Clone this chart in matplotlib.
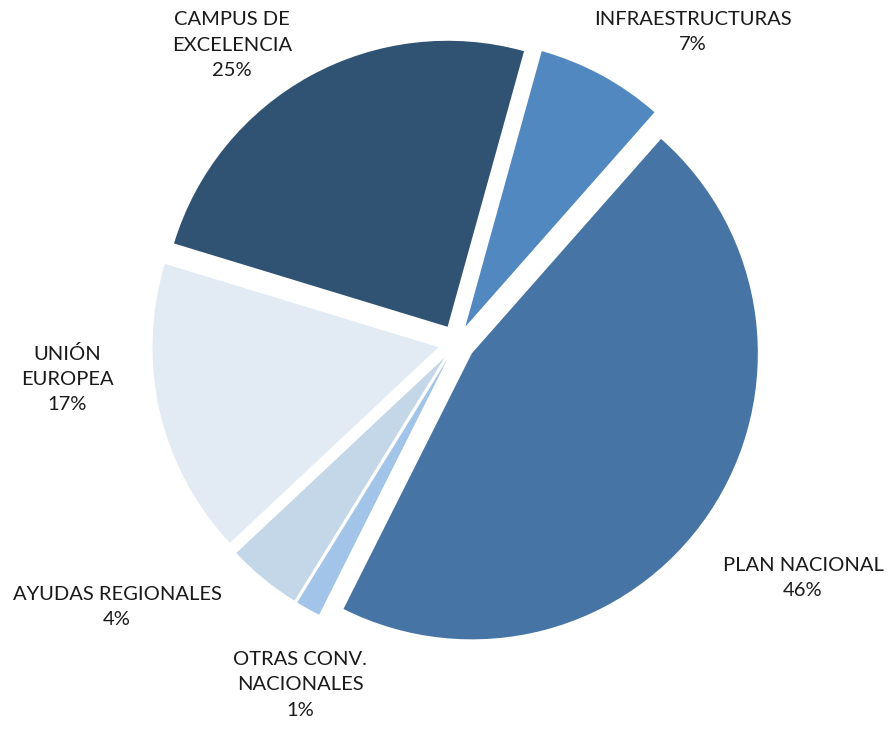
import matplotlib.pyplot as plt

# Financiación por origen (%), en el orden del gráfico (horario desde arriba)
categories = ["INFRAESTRUCTURAS", "PLAN NACIONAL", "OTRAS CONV.\nNACIONALES",
              "AYUDAS REGIONALES", "UNIÓN\nEUROPEA", "CAMPUS DE\nEXCELENCIA"]
shares = [7.2, 45.9, 1.4, 4.2, 16.7, 24.6]
pct_labels = ["7%", "46%", "1%", "4%", "17%", "25%"]

colors = ["#5188C0", "#4674A4", "#A2C4E8", "#C4D7E8", "#E2EAF4", "#305373"]

# layout (pixel coordinates, y pointing up)
W, H = 888, 729
center = (456.5, H - 343)
radius = 286
offset = 18.5  # explode distance in pixels (pie uses data units)
label_xy = [(693, H - 32), (803, H - 578), (300, H - 685),
            (117, H - 607), (67, H - 379), (232, H - 45)]

plt.rcParams['font.family'] = ['Lato', 'DejaVu Sans']

fig = plt.figure(figsize=(W / 100, H / 100), dpi=100)
ax = fig.add_axes([0, 0, 1, 1])
ax.set_aspect('equal')
ax.axis('off')

ax.pie(shares, colors=colors, startangle=74.5, counterclock=False,
       explode=[offset] * len(shares), center=center, radius=radius,
       wedgeprops=dict(linewidth=0))
ax.set_xlim(0, W)
ax.set_ylim(0, H)

for name, pct, (x, y) in zip(categories, pct_labels, label_xy):
    ax.text(x, y, f"{name}\n{pct}", ha='center', va='center',
            fontsize=14.5, color='#1a1a1a', linespacing=1.6)

fig.savefig("out.png", dpi=100)
